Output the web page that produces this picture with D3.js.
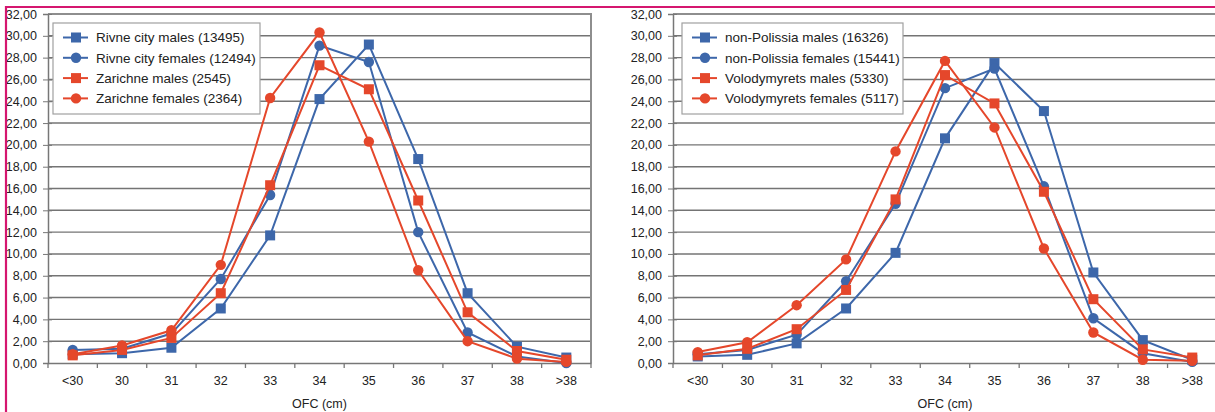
<!DOCTYPE html>
<html>
<head>
<meta charset="utf-8">
<script src="https://cdn.jsdelivr.net/npm/d3@7"></script>
<style>
  body { margin: 0; background: #fff; }
  svg { display: block; font-family: "Liberation Sans", Arial, sans-serif; }
</style>
</head>
<body>
<div id="chart"></div>
<script>
// OFC categories (cm)
var categories = ["<30", "30", "31", "32", "33", "34", "35", "36", "37", "38", ">38"];
var yTicks = [0, 2, 4, 6, 8, 10, 12, 14, 16, 18, 20, 22, 24, 26, 28, 30, 32];

// left chart
var rivneMales = [0.8, 0.9, 1.4, 5.0, 11.7, 24.2, 29.2, 18.7, 6.4, 1.5, 0.5];
var rivneFemales = [1.2, 1.3, 2.7, 7.7, 15.4, 29.1, 27.6, 12.0, 2.8, 0.6, 0.0];
var zarichneMales = [0.7, 1.2, 2.3, 6.4, 16.3, 27.3, 25.1, 14.9, 4.65, 1.1, 0.3];
var zarichneFemales = [0.8, 1.6, 3.0, 9.0, 24.3, 30.3, 20.3, 8.5, 2.0, 0.4, 0.1];
var leftNames = ["Rivne city males (13495)", "Rivne city females (12494)", "Zarichne males (2545)", "Zarichne females (2364)"];

// right chart
var nonPolissiaMales = [0.6, 0.75, 1.8, 5.0, 10.1, 20.6, 27.5, 23.1, 8.3, 2.1, 0.3];
var nonPolissiaFemales = [0.8, 1.2, 2.6, 7.5, 14.6, 25.2, 27.0, 16.2, 4.1, 0.9, 0.1];
var volodymyretsMales = [0.7, 1.3, 3.1, 6.7, 15.0, 26.4, 23.8, 15.7, 5.85, 1.25, 0.5];
var volodymyretsFemales = [1.0, 1.9, 5.3, 9.5, 19.4, 27.7, 21.6, 10.5, 2.8, 0.3, 0.2];
var rightNames = ["non-Polissia males (16326)", "non-Polissia females (15441)", "Volodymyrets males (5330)", "Volodymyrets females (5117)"];

var blue = "#3d67aa";
var red = "#e5472b";
var styles = [
  { color: blue, shape: "square" },
  { color: blue, shape: "circle" },
  { color: red, shape: "square" },
  { color: red, shape: "circle" }
];

var svg = d3.select("#chart")
  .append("svg")
  .attr("width", 1215)
  .attr("height", 412);

svg.append("rect").attr("width", 1215).attr("height", 412).attr("fill", "#fff");

function fmt(v) { return d3.format(".2f")(v).replace(".", ","); }

function drawMarker(sel, shape, color) {
  if (shape === "square") {
    sel.append("rect")
      .attr("x", -5).attr("y", -5)
      .attr("width", 10).attr("height", 10)
      .attr("fill", color);
  } else {
    sel.append("circle")
      .attr("r", 5.2)
      .attr("fill", color);
  }
}

function drawChart(left, right, seriesList, names, legendX, legendW) {
  var top = 14, bottom = 363;
  var g = svg.append("g");

  var x = d3.scaleBand()
    .domain(categories)
    .range([left, right])
    .padding(0);

  var y = d3.scaleLinear()
    .domain([0, 32])
    .range([bottom, top]);

  // gridlines
  g.selectAll(".grid")
    .data(yTicks.filter(function (d) { return d > 0 && d < 32; }))
    .enter()
    .append("line")
    .attr("x1", left).attr("x2", right)
    .attr("y1", function (d) { return y(d); })
    .attr("y2", function (d) { return y(d); })
    .attr("stroke", "#747474")
    .attr("stroke-width", 1.4);

  // plot frame (top + right)
  g.append("path")
    .attr("d", "M" + left + "," + top + "H" + right + "V" + bottom)
    .attr("fill", "none")
    .attr("stroke", "#8e8e8e")
    .attr("stroke-width", 2);

  // y axis
  var yAxis = g.append("g")
    .attr("transform", "translate(" + left + ",0)")
    .call(d3.axisLeft(y).tickValues(yTicks).tickFormat(fmt).tickSize(5).tickPadding(6));
  yAxis.select(".domain").attr("stroke", "#777").attr("stroke-width", 1.5);
  yAxis.selectAll(".tick line").attr("stroke", "#777").attr("x2", -5).attr("x1", 4);
  yAxis.selectAll("text")
    .attr("fill", "#222")
    .style("font-size", "12.5px")
    .style("font-family", "'Liberation Sans', Arial, sans-serif");

  // x axis
  var xAxis = g.append("g")
    .attr("transform", "translate(0," + bottom + ")")
    .call(d3.axisBottom(x).tickSize(0).tickPadding(13));
  xAxis.select(".domain").attr("stroke", "#777").attr("stroke-width", 1.5);
  xAxis.selectAll("text")
    .attr("fill", "#222")
    .style("font-size", "12.5px")
    .style("font-family", "'Liberation Sans', Arial, sans-serif");
  // boundary ticks between categories
  g.selectAll(".xtick")
    .data(categories)
    .enter()
    .append("line")
    .attr("x1", function (d) { return x(d); })
    .attr("x2", function (d) { return x(d); })
    .attr("y1", bottom).attr("y2", bottom + 5)
    .attr("stroke", "#777")
    .attr("stroke-width", 1.3);
  g.append("line")
    .attr("x1", right).attr("x2", right)
    .attr("y1", bottom).attr("y2", bottom + 5)
    .attr("stroke", "#777")
    .attr("stroke-width", 1.3);

  // x axis title
  g.append("text")
    .attr("x", (left + right) / 2)
    .attr("y", 408)
    .attr("text-anchor", "middle")
    .attr("fill", "#222")
    .style("font-size", "12.5px")
    .text("OFC (cm)");

  var cx = function (i) { return x(categories[i]) + x.bandwidth() / 2; };

  var line = d3.line()
    .x(function (d, i) { return cx(i); })
    .y(function (d) { return y(d); });

  seriesList.forEach(function (values, s) {
    var st = styles[s];
    g.append("path")
      .datum(values)
      .attr("d", line)
      .attr("fill", "none")
      .attr("stroke", st.color)
      .attr("stroke-width", 2);
    var pts = g.selectAll(".pt" + s)
      .data(values)
      .enter()
      .append("g")
      .attr("transform", function (d, i) { return "translate(" + cx(i) + "," + y(d) + ")"; });
    pts.each(function () { drawMarker(d3.select(this), st.shape, st.color); });
  });

  // legend
  var legendTop = 23, rowH = 20.3;
  g.append("rect")
    .attr("x", legendX).attr("y", legendTop)
    .attr("width", legendW).attr("height", 91)
    .attr("fill", "#fff")
    .attr("stroke", "#a0a0a0")
    .attr("stroke-width", 1.2);

  var legend = g.selectAll(".legend")
    .data(names)
    .enter()
    .append("g")
    .attr("transform", function (d, i) {
      return "translate(" + legendX + "," + (legendTop + 14.5 + i * rowH) + ")";
    });

  legend.append("line")
    .attr("x1", 10).attr("x2", 35)
    .attr("stroke", function (d, i) { return styles[i].color; })
    .attr("stroke-width", 2);

  legend.each(function (d, i) {
    var m = d3.select(this).append("g").attr("transform", "translate(23,0)");
    drawMarker(m, styles[i].shape, styles[i].color);
  });

  legend.append("text")
    .attr("x", 43)
    .attr("dy", "0.36em")
    .attr("fill", "#222")
    .style("font-size", "13.5px")
    .text(function (d) { return d; });
}

drawChart(48, 591, [rivneMales, rivneFemales, zarichneMales, zarichneFemales], leftNames, 53, 207);
drawChart(673, 1217, [nonPolissiaMales, nonPolissiaFemales, volodymyretsMales, volodymyretsFemales], rightNames, 682, 221);

// magenta page frame
svg.append("path")
  .attr("d", "M6,412V7H1215")
  .attr("fill", "none")
  .attr("stroke", "#d5166f")
  .attr("stroke-width", 2.2);
</script>
</body>
</html>
